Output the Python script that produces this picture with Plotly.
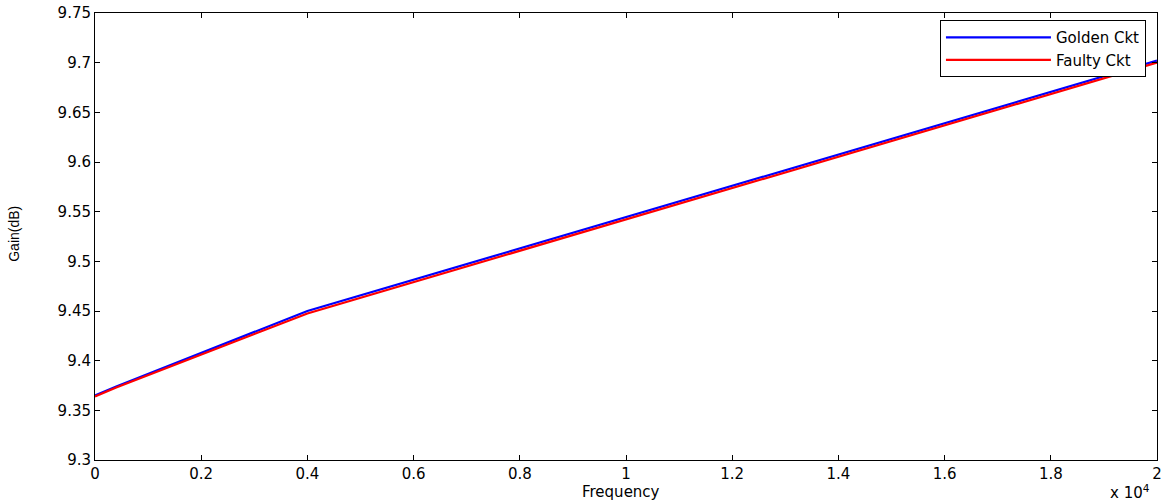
import plotly.graph_objects as go

freq = [0, 400, 4000, 20000]
golden = [9.365, 9.374, 9.450, 9.702]
faulty = [9.364, 9.373, 9.4475, 9.700]

xtick_vals = [0, 2000, 4000, 6000, 8000, 10000, 12000, 14000, 16000, 18000, 20000]
xtick_text = ["0", "0.2", "0.4", "0.6", "0.8", "1", "1.2", "1.4", "1.6", "1.8", "2"]
ytick_vals = [9.3, 9.35, 9.4, 9.45, 9.5, 9.55, 9.6, 9.65, 9.7, 9.75]
ytick_text = ["9.3", "9.35", "9.4", "9.45", "9.5", "9.55", "9.6", "9.65", "9.7", "9.75"]

FAM = "DejaVu Sans, Liberation Sans, Arial, sans-serif"

fig = go.Figure()
fig.add_trace(go.Scatter(x=freq, y=golden, mode="lines", name="Golden Ckt",
                         line=dict(color="#0000ff", width=2.2)))
fig.add_trace(go.Scatter(x=freq, y=faulty, mode="lines", name="Faulty Ckt",
                         line=dict(color="#ff0000", width=2.2)))

font = dict(family=FAM, size=15, color="#000")
axis_common = dict(showgrid=False, zeroline=False, showline=True, linecolor="#000",
                   linewidth=1, mirror="ticks", ticks="inside", ticklen=5,
                   tickcolor="#000", tickfont=font, automargin=False)

fig.update_layout(
    width=1167, height=502,
    margin=dict(l=95, r=10, t=13, b=42, pad=0),
    paper_bgcolor="white", plot_bgcolor="white",
    font=font,
    showlegend=True,
    legend=dict(x=0.9896, y=0.984, xanchor="right", yanchor="top",
                bordercolor="#000", borderwidth=1, bgcolor="white",
                font=dict(family=FAM, size=15, color="#000"),
                tracegroupgap=0, itemwidth=105),
    xaxis=dict(range=[0, 20000], tickvals=xtick_vals, ticktext=xtick_text,
               **axis_common),
    yaxis=dict(range=[9.3, 9.75], tickvals=ytick_vals, ticktext=ytick_text,
               **axis_common),
)
fig.add_annotation(xref="paper", yref="paper", x=0.495, y=-0.071, xanchor="center",
                   yanchor="middle", showarrow=False, text="Frequency",
                   font=dict(family=FAM, size=15, color="#000"))
fig.add_annotation(xref="paper", yref="paper", x=-0.0763, y=0.506, xanchor="center",
                   yanchor="middle", showarrow=False, text="Gain(dB)", textangle=-90,
                   font=dict(family="Liberation Sans, Arial, sans-serif", size=14, color="#000"))
fig.add_annotation(xref="paper", yref="paper", x=0.995, y=-0.072, xanchor="right",
                   yanchor="middle", showarrow=False,
                   text="x 10<sup>4</sup>", font=dict(family=FAM, size=15, color="#000"))
fig.write_html("out.html", config={"displayModeBar": False},
               post_script="document.body.style.margin='0';")
